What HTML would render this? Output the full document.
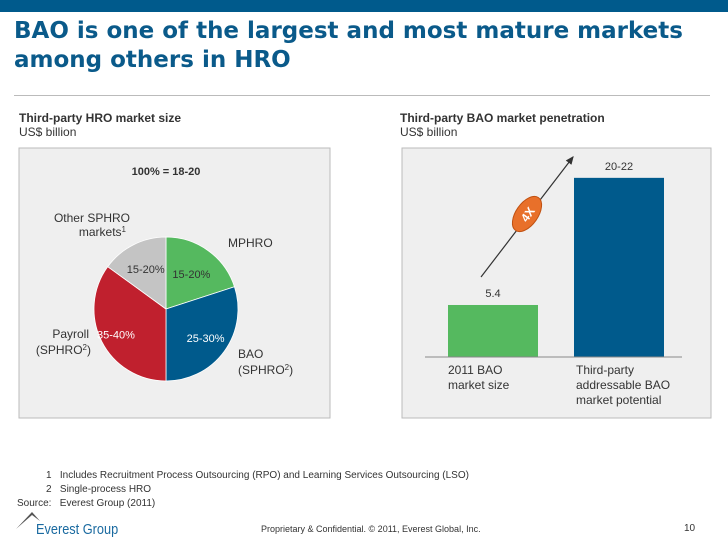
<!DOCTYPE html>
<html><head><meta charset="utf-8"><style>
body{margin:0;width:728px;height:546px;background:#fff;position:relative;overflow:hidden;font-family:"Liberation Sans",sans-serif;color:#333}
.a{position:absolute;white-space:nowrap}
</style></head><body>
<div class="a" style="left:0;top:0;width:728px;height:12px;background:#005a8c"></div>
<div class="a" style="left:14px;top:17px;font-family:'DejaVu Sans',sans-serif;font-weight:bold;font-size:23px;line-height:29px;color:#0a5a8a">BAO is one of the largest and most mature markets<br>among others in HRO</div>
<div class="a" style="left:14px;top:95px;width:696px;height:1px;background:#bbb"></div>
<div class="a" style="left:19px;top:111px;font-size:12px;line-height:14px"><b>Third-party HRO market size</b><br>US$ billion</div>
<div class="a" style="left:400px;top:111px;font-size:12px;line-height:14px"><b>Third-party BAO market penetration</b><br>US$ billion</div>
<svg class="a" style="left:0;top:0" width="728" height="546">
<rect x="19" y="148" width="311" height="270" fill="#efefef" stroke="#bbb"/>
<rect x="402" y="148" width="309" height="270" fill="#efefef" stroke="#bbb"/>
<g id="pie"></g>
<g id="bars"></g>
<g font-size="12" fill="#333" font-family="Liberation Sans,sans-serif">
<text x="166" y="175" text-anchor="middle" font-weight="bold" font-size="11">100% = 18-20</text>
<text x="130" y="222" text-anchor="end">Other SPHRO</text>
<text x="126" y="236" text-anchor="end">markets<tspan font-size="8" dy="-4">1</tspan></text>
<text x="228" y="247">MPHRO</text>
<text x="89" y="338" text-anchor="end">Payroll</text>
<text x="91" y="354" text-anchor="end">(SPHRO<tspan font-size="8" dy="-4">2</tspan><tspan dy="4">)</tspan></text>
<text x="238" y="358">BAO</text>
<text x="238" y="374">(SPHRO<tspan font-size="8" dy="-4">2</tspan><tspan dy="4">)</tspan></text>
<text x="448" y="374">2011 BAO</text>
<text x="448" y="389">market size</text>
<text x="576" y="374">Third-party</text>
<text x="576" y="389">addressable BAO</text>
<text x="576" y="404">market potential</text>
</g>
<line x1="425" y1="357" x2="682" y2="357" stroke="#888"/>
<defs><marker id="ah" markerWidth="8" markerHeight="8" refX="6" refY="4" orient="auto"><path d="M0,1 L7,4 L0,7z" fill="#333"/></marker></defs>
<line x1="481" y1="277" x2="573" y2="157" stroke="#333" stroke-width="1.2" marker-end="url(#ah)"/>
<g transform="translate(527,214) rotate(-55)">
<ellipse rx="20" ry="11" fill="#e8702a" stroke="#c05010"/>
<text y="5" text-anchor="middle" fill="#fff" font-weight="bold" font-size="12" font-family="Liberation Sans,sans-serif">4X</text></g>
</svg>
<div class="a" style="left:19px;top:469px;font-size:10px;line-height:14px;color:#333">
<div style="padding-left:27px">1&nbsp;&nbsp;&nbsp;Includes Recruitment Process Outsourcing (RPO) and Learning Services Outsourcing (LSO)</div>
<div style="padding-left:27px">2&nbsp;&nbsp;&nbsp;Single-process HRO</div>
<div style="margin-left:-2px">Source:&nbsp;&nbsp;&nbsp;Everest Group (2011)</div></div>
<svg class="a" style="left:14px;top:509px" width="30" height="22"><path d="M2,20 L18,3 L26,12 L18,6z" fill="#555"/></svg>
<div class="a" style="left:36px;top:521px;font-size:15px;color:#1a6aa0;transform:scaleX(0.85);transform-origin:left">Everest Group</div>
<div class="a" style="left:261px;top:524px;font-size:9px;color:#333">Proprietary &amp; Confidential. © 2011, Everest Global, Inc.</div>
<div class="a" style="left:684px;top:523px;font-size:10px;color:#333">10</div>
<script>
const sliceNames=["mphro","bao","payroll","other"];
const sliceValues=[20,30,35,15];
const sliceLabels=["15-20%","25-30%","35-40%","15-20%"];
const sliceColors=["#55b95f","#005a8c","#c0202e","#c4c4c4"];
const barCats=["2011","potential"];
const barValues=[5.4,21];
const barLabels=["5.4","20-22"];
const NS="http://www.w3.org/2000/svg";
const cx=166,cy=309,r=72;
const total=sliceValues.reduce((a,b)=>a+b,0);
const pie=document.getElementById('pie');
let a0=0;
const lblPos=[0.6,0.68,0.78,0.62];
const lblFill=["#333","#fff","#fff","#333"];
sliceValues.forEach((v,i)=>{
 const a1=a0+v/total*2*Math.PI;
 const p=(a)=>[cx+r*Math.sin(a),cy-r*Math.cos(a)];
 const [x0,y0]=p(a0),[x1,y1]=p(a1);
 const path=document.createElementNS(NS,'path');
 path.setAttribute('d',`M${cx},${cy}L${x0},${y0}A${r},${r} 0 ${a1-a0>Math.PI?1:0} 1 ${x1},${y1}Z`);
 path.setAttribute('fill',sliceColors[i]);path.setAttribute('stroke','#fff');path.setAttribute('stroke-width','0.8');
 
 
 pie.appendChild(path);
 const am=(a0+a1)/2,rr=r*lblPos[i];
 const t=document.createElementNS(NS,'text');
 t.setAttribute('x',cx+rr*Math.sin(am));t.setAttribute('y',cy-rr*Math.cos(am)+4);
 t.setAttribute('text-anchor','middle');t.setAttribute('font-size','11');t.setAttribute('fill',lblFill[i]);
 t.setAttribute('font-family','Liberation Sans,sans-serif');
 
 
 t.textContent=sliceLabels[i];pie.appendChild(t);
 a0=a1;
});
const bars=document.getElementById('bars');
const base=357,yScale=v=>base-(8+v*8.15);
const bx=[448,574],bw=90,bc=["#55b95f","#005a8c"];
barValues.forEach((v,i)=>{
 const y=yScale(v);
 const rc=document.createElementNS(NS,'rect');
 rc.setAttribute('x',bx[i]);rc.setAttribute('y',y);rc.setAttribute('width',bw);rc.setAttribute('height',base-y);rc.setAttribute('fill',bc[i]);
 
 
 bars.appendChild(rc);
 const t=document.createElementNS(NS,'text');
 t.setAttribute('x',bx[i]+bw/2);t.setAttribute('y',y-8);t.setAttribute('text-anchor','middle');
 t.setAttribute('font-size','11');t.setAttribute('fill','#333');t.setAttribute('font-family','Liberation Sans,sans-serif');
 
 
 t.textContent=barLabels[i];bars.appendChild(t);
});
</script>
</body></html>
